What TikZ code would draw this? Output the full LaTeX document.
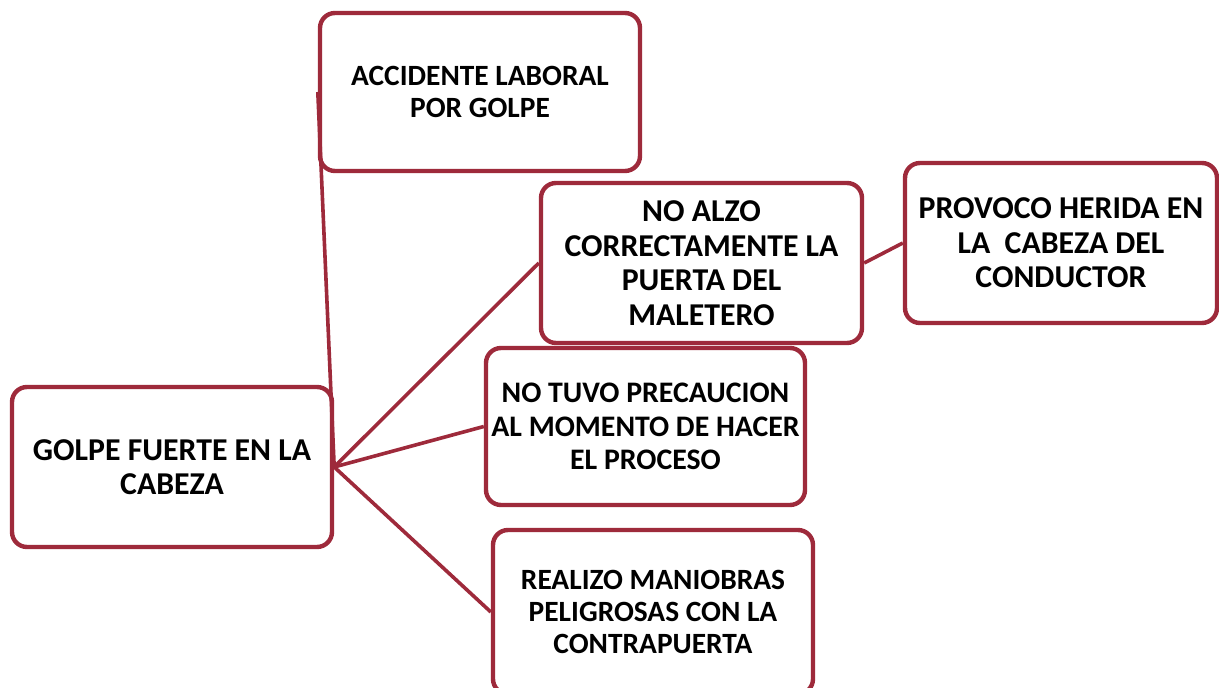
\documentclass[tikz,border=0pt]{standalone}
\usepackage{fontspec}
\setmainfont{Carlito}
\usepackage{xcolor}
\usepackage{tikz}
\usetikzlibrary{positioning}
\definecolor{BoxRed}{HTML}{9E2A3B}

\begin{document}
\begin{tikzpicture}[x=0.5pt,y=-0.5pt,
    caja/.style={draw=BoxRed,line width=2.2pt,rounded corners=7.5pt,fill=white,
      align=center,inner sep=0pt,font=\bfseries\fontsize{15.9}{17.3}\selectfont},
    chica/.style={font=\bfseries\fontsize{14.7}{16.2}\selectfont},
    enlace/.style={draw=BoxRed,line width=1.8pt}]
  \useasboundingbox (0,0) rectangle (1219,688);
  % cajas
  \node[caja,minimum width=160pt,minimum height=80pt] (golpe) at (172,467)
      {GOLPE FUERTE EN LA\\CABEZA};
  \node[caja,chica,minimum width=160pt,minimum height=79pt] (accidente) at (480,92)
      {ACCIDENTE LABORAL\\POR GOLPE};
  \node[caja,minimum width=160.5pt,minimum height=80pt] (alzo) at (701.5,263)
      {NO ALZO\\CORRECTAMENTE LA\\PUERTA DEL\\MALETERO};
  \node[caja,minimum width=156pt,minimum height=80pt] (herida) at (1061,243)
      {PROVOCO HERIDA EN\\LA\ \ CABEZA DEL\\CONDUCTOR};
  \node[caja,font=\bfseries\fontsize{14.9}{16.6}\selectfont,
      minimum width=159.5pt,minimum height=78.5pt] (precaucion) at (645.5,426.5)
      {NO TUVO PRECAUCION\\AL MOMENTO DE HACER\\EL PROCESO};
  \node[caja,chica,minimum width=160pt,minimum height=82pt] (maniobras) at (653,612)
      {REALIZO MANIOBRAS\\PELIGROSAS CON LA\\CONTRAPUERTA};
  % enlaces
  \foreach \dest in {accidente,alzo,precaucion,maniobras}{
    \draw[enlace] (golpe.east) -- (\dest.west);
  }
  \draw[enlace] (alzo.east) -- (herida.west);
\end{tikzpicture}
\end{document}
